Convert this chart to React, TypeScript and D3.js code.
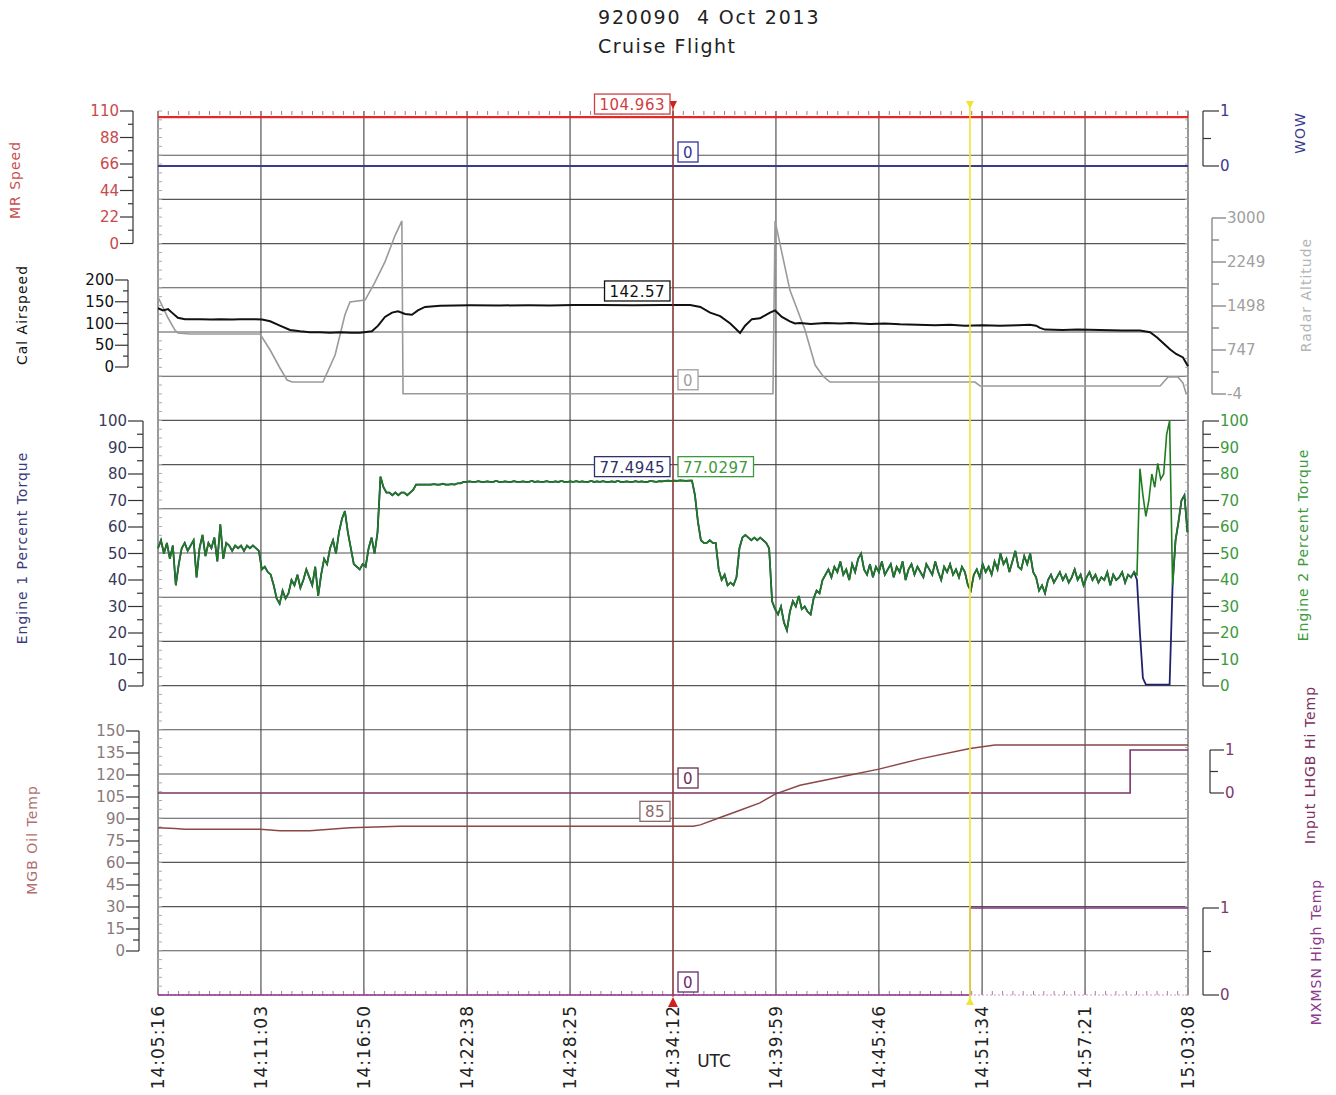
import React from "react";
import * as d3 from "d3";

// ---- time axis ----
const timeTicks = ["14:05:16", "14:11:03", "14:16:50", "14:22:38", "14:28:25", "14:34:12",
  "14:39:59", "14:45:46", "14:51:34", "14:57:21", "15:03:08"];
const cursorTime = "14:34:12";
const markerTime = "14:50:53";

// series as [seconds since 14:05:16, value]
const mrSpeed: [number, number][] = [[0, 104.963], [3472, 104.963]];
const wow: [number, number][] = [[0, 0], [3472, 0]];
const calAirspeed: [number, number][] = [
  [0, 135], [17, 130], [34, 133], [47, 125], [67, 113], [91, 110], [142, 110], [180, 109], [209, 110],
  [250, 109], [276, 110], [327, 110], [351, 109], [378, 105], [411, 95], [445, 85], [479, 82], [512, 80],
  [546, 80], [580, 79], [614, 80], [650, 79], [681, 79], [721, 82], [742, 95], [765, 115], [789, 125],
  [809, 128], [833, 122], [856, 120], [876, 130], [900, 138], [951, 141], [1052, 142], [1150, 141.5],
  [1250, 142], [1321, 141.5], [1400, 142.3], [1490, 142.5], [1600, 142], [1700, 142.6], [1794, 142.5],
  [1828, 138], [1861, 125], [1895, 117], [1929, 100], [1962, 78], [1979, 95], [2002, 110], [2029, 112],
  [2063, 125], [2080, 130], [2103, 115], [2130, 105], [2147, 100], [2164, 101], [2200, 99], [2250, 101],
  [2300, 100], [2333, 101], [2400, 99], [2450, 100], [2501, 98], [2560, 97], [2620, 96], [2670, 97],
  [2720, 95], [2780, 96], [2838, 95], [2900, 96], [2939, 97], [2960, 95], [2973, 90], [2990, 86],
  [3050, 85], [3100, 86], [3175, 85], [3250, 84], [3310, 84], [3344, 80], [3368, 68], [3388, 55],
  [3412, 40], [3432, 30], [3455, 22], [3472, 2]];
const radarAltitude: [number, number][] = [
  [0, 1651], [13, 1515], [34, 1293], [57, 1088], [67, 1037], [108, 1020], [344, 1020], [378, 747],
  [411, 440], [435, 235], [452, 200], [556, 200], [597, 662], [630, 1344], [647, 1566], [698, 1600],
  [731, 1900], [765, 2250], [799, 2700], [822, 2950], [826, 0], [2073, 0], [2080, 2950], [2130, 1770],
  [2181, 1088], [2215, 490], [2242, 300], [2265, 200], [2754, 200], [2771, 133], [3378, 133],
  [3405, 286], [3438, 286], [3455, 184], [3465, 13], [3472, 0]];
const oilTemp: [number, number][] = [
  [0, 84], [57, 83.5], [91, 83], [344, 83], [411, 82], [512, 82], [647, 84], [816, 85], [1804, 85],
  [1828, 86], [1895, 91], [1962, 96], [2029, 101], [2080, 107], [2164, 113], [2333, 120], [2430, 124],
  [2569, 131], [2737, 138], [2821, 140.5], [3472, 140.5]];
const lhgbHiTemp: [number, number][] = [[0, 0], [3277, 1], [3472, 1]];
const mxmsnHiTemp: [number, number][] = [[0, 0], [2737, 1], [3472, 1]];

// torque, one sample every 10 s
const torqueStep = 10;
const torqueShared = [
  52, 55, 50, 54, 48, 53, 38, 46, 52, 54,
  51, 53, 55, 41, 52, 57, 49, 54, 52, 56,
  47, 61, 48, 54, 53, 51, 53, 52, 53, 51,
  53, 52, 53, 52, 51, 44, 45, 43, 42, 38,
  33, 31, 36, 33, 35, 40, 38, 42, 37, 40,
  44, 41, 38, 45, 34, 42, 48, 46, 52, 55,
  50, 58, 63, 66, 58, 52, 46, 45, 44, 46,
  45, 52, 56, 50, 58, 79, 75, 73, 73, 72,
  73, 72, 73, 73, 72, 73, 74, 76, 76, 76,
  76, 76, 76, 76.2, 76, 76, 76.3, 76, 76, 76.2,
  76, 76.5, 76.5, 77, 77, 77.2, 77, 77, 77.3, 77,
  77, 77.2, 77, 77, 77.4, 77, 77, 77.2, 77, 77,
  77.3, 77, 77, 77.2, 77, 77, 77.4, 77, 77.2, 77,
  77, 77.3, 77, 77, 77.2, 77, 77.4, 77, 77, 77.2,
  77, 77.3, 77, 77.2, 77, 77, 77.4, 77, 77.2, 77,
  77.3, 77, 77, 77.2, 77, 77.4, 77, 77, 77.2, 77,
  77, 77.3, 77, 77.2, 77, 77, 77.4, 77.2, 77, 77.3,
  77.2, 77.4, 77.5, 77.3, 77.5, 77.4, 77.6, 77.5, 77.4, 77.5,
  77.5, 72, 62, 55, 54, 54, 55, 54, 54, 44,
  40, 42, 38, 39, 38, 41, 52, 56, 57, 56,
  55, 56, 55, 56, 55, 54, 52, 32, 29, 27,
  30, 24, 21, 28, 32, 30, 34, 29, 30, 28,
  27, 33, 36, 35, 40, 42, 44, 41, 45, 43,
  47, 42, 44, 40, 46, 43, 48, 50, 44, 42,
  46, 41, 45, 43, 47, 42, 44, 46, 41, 45,
  43, 47, 40, 44, 46, 42, 45, 43, 41, 46,
  44, 42, 47, 43, 40, 45, 43, 46, 42, 44,
  41, 45, 43, 38, 36, 42, 44, 41, 46, 43,
  45, 42, 47, 44, 50, 46, 48, 43, 47, 51,
  45, 44, 49, 46, 50, 43, 41, 36, 38, 35,
  40, 42, 39, 41, 43, 40, 42, 39, 41, 44,
  40, 42, 38, 41, 43, 40, 42, 39, 41, 40,
  43, 38, 42, 40, 41, 43, 39, 42, 41, 43];
const torque1Tail = [40, 20, 3, 0.5, 0.5, 0.5, 0.5, 0.5, 0.5, 0.5, 0.5, 0.5, 38, 55, 62, 70, 72, 58];
const torque2Tail = [42, 82, 72, 64, 70, 80, 75, 84, 78, 80, 95, 100, 38, 55, 62, 70, 72, 58];

// axis ticks
const mrTicks = [0, 22, 44, 66, 88, 110];
const casTicks = [0, 50, 100, 150, 200];
const radarTicks = [-4, 747, 1498, 2249, 3000];
const torqueTicks = [0, 10, 20, 30, 40, 50, 60, 70, 80, 90, 100];
const oilTicks = [0, 15, 30, 45, 60, 75, 90, 105, 120, 135, 150];
const binTicks = [0, 1];

// cursor readouts
const readMr = "104.963";
const readWow = "0";
const readCas = "142.57";
const readRadar = "0";
const readTq1 = "77.4945";
const readTq2 = "77.0297";
const readLhgb = "0";
const readOil = "85";
const readMx = "0";

const FONT = "DejaVu Sans, Verdana, sans-serif";
const X0 = 158, X1 = 1188, TOP = 111, BOT = 995;

const toSec = (s: string) => {
  const [h, m, ss] = s.split(":").map(Number);
  return h * 3600 + m * 60 + ss;
};
const tStart = toSec(timeTicks[0]);
const x = d3.scaleLinear().domain([0, toSec(timeTicks[timeTicks.length - 1]) - tStart]).range([X0, X1]);

const mrY = d3.scaleLinear().domain([0, 110]).range([243.5, 111]);
const wowY = d3.scaleLinear().domain([0, 1]).range([166, 111]);
const casY = d3.scaleLinear().domain([0, 200]).range([367, 280]);
const radY = d3.scaleLinear().domain([-4, 3000]).range([394, 218]);
const tqY = d3.scaleLinear().domain([0, 100]).range([686, 421]);
const oilY = d3.scaleLinear().domain([0, 150]).range([951, 731]);
const lhgbY = d3.scaleLinear().domain([0, 1]).range([793, 750]);
const mxY = d3.scaleLinear().domain([0, 1]).range([995, 908]);

const path = (data: [number, number][], ys: d3.ScaleLinear<number, number>, curve = d3.curveLinear) =>
  d3.line<[number, number]>().x(d => x(d[0])).y(d => ys(d[1])).curve(curve)(data) || "";

const torque1: [number, number][] = [...torqueShared, ...torque1Tail].map((v, i) => [i * torqueStep, v]);
const torque2: [number, number][] = [...torqueShared, ...torque2Tail].map((v, i) => [i * torqueStep, v]);

type AxisProps = {
  scale: d3.ScaleLinear<number, number>; ax: number; ticks: number[]; side: "left" | "right";
  len: number; mlen: number; color: string; lineColor?: string; fs?: number;
};
function YAxis({ scale, ax, ticks, side, len, mlen, color, lineColor = "#333", fs = 15 }: AxisProps) {
  const dir = side === "left" ? -1 : 1;
  const minor = d3.pairs(ticks).map(([a, b]) => (a + b) / 2);
  const ext = d3.extent(ticks) as [number, number];
  return (
    <g>
      <line x1={ax} x2={ax} y1={scale(ext[0])} y2={scale(ext[1])} stroke={lineColor} strokeWidth={1.2} />
      {ticks.map(t => (
        <g key={t}>
          <line x1={ax} x2={ax + dir * len} y1={scale(t)} y2={scale(t)} stroke={lineColor} strokeWidth={1.2} />
          <text x={ax + dir * (len + 1)} y={scale(t)} textAnchor={side === "left" ? "end" : "start"}
            dominantBaseline="central" fill={color} fontSize={fs} fontFamily={FONT}>{t}</text>
        </g>
      ))}
      {minor.map(t => (
        <line key={"m" + t} x1={ax} x2={ax + dir * mlen} y1={scale(t)} y2={scale(t)} stroke={lineColor} strokeWidth={1.2} />
      ))}
    </g>
  );
}

const charW = (c: string) => (c === "." ? 0.318 : 0.636);
function ValueBox({ cx, cy, text, color, side }: { cx: number; cy: number; text: string; color: string; side: "left" | "right" }) {
  const fs = 15;
  const w = text.split("").reduce((s, c) => s + charW(c) * fs + 0.5, 0) + 10;
  const bx = side === "left" ? cx - 3 - w : cx + 5;
  return (
    <g>
      <rect x={bx} y={cy - 10} width={w} height={20} fill="white" stroke={color} strokeWidth={1.3} />
      <text x={bx + w / 2} y={cy + 1} textAnchor="middle" dominantBaseline="central" fill={color}
        fontSize={fs} fontFamily={FONT} letterSpacing={0.5}>{text}</text>
    </g>
  );
}

function VTitle({ cx, cy, text, color }: { cx: number; cy: number; text: string; color: string }) {
  return (
    <text transform={`translate(${cx},${cy}) rotate(-90)`} textAnchor="middle" dominantBaseline="central"
      fill={color} fontSize={14} fontFamily={FONT} letterSpacing={1}>{text}</text>
  );
}

export default function App() {
  const tickSecs = timeTicks.map(t => toSec(t) - tStart);
  const cx = x(toSec(cursorTime) - tStart);
  const mx = x(toSec(markerTime) - tStart);
  const rowH = (BOT - TOP) / 20;
  const hGrid = d3.range(1, 20).map(k => TOP + k * rowH);
  const edgeDash = d3.range(0, 101).map(k => TOP + k * rowH / 5);
  const subSecs = d3.range(0, 101).map(k => (k * (tickSecs[tickSecs.length - 1])) / 100);

  return (
    <svg width={1336} height={1095} style={{ display: "block", position: "absolute", left: 0, top: 0 }}>
      <rect width={1336} height={1095} fill="white" />
      {/* title */}
      <text x={598} y={24} fontSize={19} fontFamily={FONT} fill="#222" letterSpacing={1.8} xmlSpace="preserve">920090  4 Oct 2013</text>
      <text x={598} y={53} fontSize={19} fontFamily={FONT} fill="#222" letterSpacing={1.5}>Cruise Flight</text>

      {/* grid */}
      {hGrid.map(y => <line key={y} x1={X0} x2={X1} y1={y} y2={y} stroke="#555" strokeWidth={1.1} />)}
      {tickSecs.map(t => <line key={t} x1={x(t)} x2={x(t)} y1={TOP} y2={BOT} stroke="#444" strokeWidth={1.1} />)}
      {edgeDash.map(y => (
        <g key={y}>
          <line x1={X0} x2={X0 + 4} y1={y} y2={y} stroke="#aaa" />
          <line x1={X1 - 3} x2={X1 + 1} y1={y} y2={y} stroke="#aaa" />
        </g>
      ))}
      {subSecs.map((t, k) => (
        <g key={k}>
          <line x1={x(t)} x2={x(t)} y1={TOP} y2={TOP + (k % 10 === 0 ? 6 : 4)} stroke="#c07070" />
          <line x1={x(t)} x2={x(t)} y1={BOT} y2={BOT - (k % 10 === 0 ? 6 : 4)} stroke="#b07aa0" />
        </g>
      ))}
      <line x1={X0} x2={X1} y1={BOT} y2={BOT} stroke="#c8a0c0" strokeDasharray="2,2" />

      {/* series */}
      <path d={path(wow, wowY)} fill="none" stroke="#3b3b8c" strokeWidth={1.8} />
      <path d={path(mrSpeed, mrY)} fill="none" stroke="#e02a2a" strokeWidth={2.2} />
      <path d={path(radarAltitude, radY)} fill="none" stroke="#9a9a9a" strokeWidth={1.6} />
      <path d={path(calAirspeed, casY)} fill="none" stroke="#111" strokeWidth={2} />
      <path d={path(torque1, tqY)} fill="none" stroke="#22226a" strokeWidth={1.8} />
      <path d={path(torque2, tqY)} fill="none" stroke="#1e7d1e" strokeWidth={1.6} />
      <path d={path(oilTemp, oilY)} fill="none" stroke="#8c4646" strokeWidth={1.5} />
      <path d={path(lhgbHiTemp, lhgbY, d3.curveStepAfter)} fill="none" stroke="#7b3565" strokeWidth={1.6} />
      <path d={path(mxmsnHiTemp, mxY, d3.curveStepAfter)} fill="none" stroke="#8b2f8b" strokeWidth={1.6} />

      {/* cursors */}
      <line x1={cx} x2={cx} y1={TOP - 4} y2={BOT + 2} stroke="#a83030" strokeWidth={1.1} />
      <path d={`M${cx - 4},${101} L${cx + 4},${101} L${cx},${109} Z`} fill="#d02020" />
      <path d={`M${cx - 5},${1007} L${cx + 5},${1007} L${cx},${997} Z`} fill="#d02020" />
      <line x1={mx} x2={mx} y1={103} y2={1003} stroke="#f2e436" strokeWidth={1.6} />
      <path d={`M${mx - 4},${101} L${mx + 4},${101} L${mx},${109} Z`} fill="#f2e436" />
      <path d={`M${mx - 4},${1005} L${mx + 4},${1005} L${mx},${997} Z`} fill="#f2e436" />

      {/* readouts */}
      <ValueBox cx={cx} cy={mrY(104.963) - 13} text={readMr} color="#d04040" side="left" />
      <ValueBox cx={cx} cy={wowY(0) - 14} text={readWow} color="#3434a0" side="right" />
      <ValueBox cx={cx} cy={casY(142.57) - 14} text={readCas} color="#111" side="left" />
      <ValueBox cx={cx} cy={radY(0) - 14} text={readRadar} color="#a0a0a0" side="right" />
      <ValueBox cx={cx} cy={tqY(77.4945) - 14} text={readTq1} color="#30306a" side="left" />
      <ValueBox cx={cx} cy={tqY(77.4945) - 14} text={readTq2} color="#3c9a3c" side="right" />
      <ValueBox cx={cx} cy={lhgbY(0) - 15} text={readLhgb} color="#6a3050" side="right" />
      <ValueBox cx={cx} cy={oilY(85) - 15} text={readOil} color="#8a6a6a" side="left" />
      <ValueBox cx={cx} cy={mxY(0) - 13} text={readMx} color="#6a2a6a" side="right" />

      {/* left axes */}
      <YAxis scale={mrY} ax={133} ticks={mrTicks} side="left" len={13} mlen={5} color="#c84a4a" />
      <YAxis scale={casY} ax={128} ticks={casTicks} side="left" len={13} mlen={5} color="#111" />
      <YAxis scale={tqY} ax={143} ticks={torqueTicks} side="left" len={15} mlen={6} color="#3a3a5a" />
      <YAxis scale={oilY} ax={139} ticks={oilTicks} side="left" len={13} mlen={6} color="#8a7a7a" />
      {/* right axes */}
      <YAxis scale={wowY} ax={1203} ticks={binTicks} side="right" len={16} mlen={8} color="#3a3a8a" />
      <YAxis scale={radY} ax={1212} ticks={radarTicks} side="right" len={14} mlen={7} color="#a0a0a0" lineColor="#777" />
      <YAxis scale={tqY} ax={1203} ticks={torqueTicks} side="right" len={16} mlen={8} color="#3c9a3c" />
      <YAxis scale={lhgbY} ax={1210} ticks={binTicks} side="right" len={14} mlen={8} color="#7a3a6a" />
      <YAxis scale={mxY} ax={1203} ticks={binTicks} side="right" len={16} mlen={8} color="#7a3a6a" />

      {/* axis titles */}
      <VTitle cx={15} cy={180} text="MR Speed" color="#c85050" />
      <VTitle cx={22} cy={315} text="Cal Airspeed" color="#111" />
      <VTitle cx={22} cy={548} text="Engine 1 Percent Torque" color="#3a3a7a" />
      <VTitle cx={32} cy={840} text="MGB Oil Temp" color="#b07070" />
      <VTitle cx={1300} cy={133} text="WOW" color="#3a3a8a" />
      <VTitle cx={1306} cy={295} text="Radar Altitude" color="#b4b4b4" />
      <VTitle cx={1303} cy={545} text="Engine 2 Percent Torque" color="#3c9a3c" />
      <VTitle cx={1310} cy={765} text="Input LHGB Hi Temp" color="#7a3060" />
      <VTitle cx={1316} cy={952} text="MXMSN High Temp" color="#8b3a8b" />

      {/* time labels */}
      {timeTicks.map((lab, i) => (
        <text key={lab} transform={`translate(${x(tickSecs[i])},${1005}) rotate(-90)`} textAnchor="end"
          dominantBaseline="central" fontSize={17} fontFamily={FONT} fill="#222" letterSpacing={1}>{lab}</text>
      ))}
      <text x={714} y={1067} textAnchor="middle" fontSize={17} fontFamily={FONT} fill="#222">UTC</text>
    </svg>
  );
}
